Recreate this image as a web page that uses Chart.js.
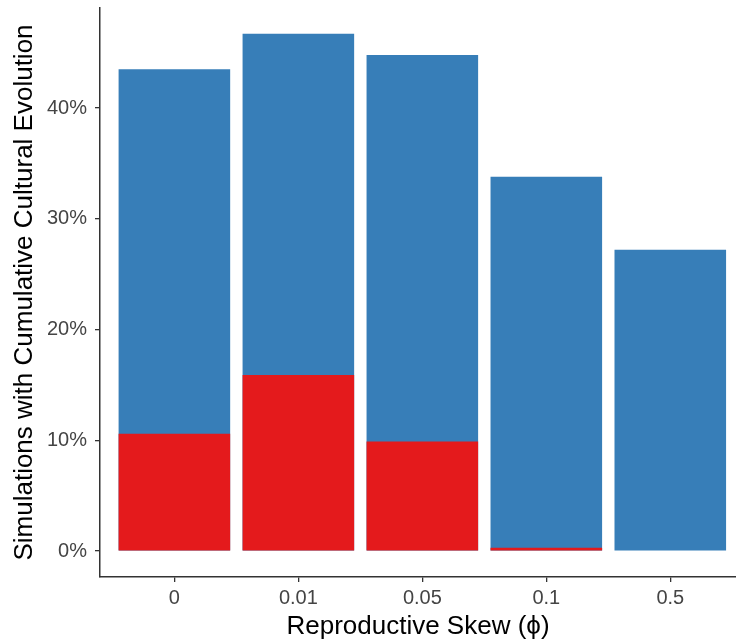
<!DOCTYPE html>
<html>
<head>
<meta charset="utf-8">
<script src="https://cdn.jsdelivr.net/npm/chart.js@4/dist/chart.umd.min.js"></script>
<style>
  html, body { margin: 0; padding: 0; background: #fff; overflow: hidden; }
  #wrap { width: 736px; height: 643px; }
</style>
</head>
<body>
<div id="wrap"><canvas id="grafica"></canvas></div>
<script>
// datos
const categorias = ['0', '0.01', '0.05', '0.1', '0.5'];
const totalCCE   = [43.5, 46.7, 44.8, 33.8, 27.2]; // azul
const subsetCCE  = [10.6, 15.9, 9.9, 0.3, 0];      // rojo
const yTicks     = [0, 10, 20, 30, 40];

const azul = '#377EB8';
const rojo = '#E41A1C';
const gris = '#444444';

const toPoints = arr => arr.map((v, i) => ({x: i + 1, y: v}));

// rango como ggplot: expansion 0.6 en x (cortado a la derecha), 5% en y
const yMax = Math.max(...totalCCE);

const ctx = document.getElementById('grafica').getContext('2d');
new Chart(ctx, {
  type: 'bar',
  data: {
    datasets: [
      { label: 'subset', data: toPoints(subsetCCE), backgroundColor: rojo, grouped: false,
        categoryPercentage: 0.9, barPercentage: 1, borderWidth: 0 },
      { label: 'total', data: toPoints(totalCCE), backgroundColor: azul, grouped: false,
        categoryPercentage: 0.9, barPercentage: 1, borderWidth: 0 }
    ]
  },
  options: {
    responsive: true,
    maintainAspectRatio: false,
    animation: false,
    layout: { padding: { top: 8, right: 0, left: 0, bottom: 0 } },
    plugins: { legend: { display: false }, tooltip: { enabled: false } },
    scales: {
      x: {
        type: 'linear',
        offset: false,
        min: 0.4,
        max: 5.53,
        afterBuildTicks: axis => { axis.ticks = categorias.map((c, i) => ({value: i + 1})); },
        afterFit: scale => { scale.height = 66; scale.paddingLeft = 0; scale.paddingRight = 0; },
        ticks: {
          callback: v => categorias[v - 1],
          color: gris,
          font: { family: 'Liberation Sans', size: 20 },
          padding: 4,
          maxRotation: 0
        },
        grid: { display: true, offset: false, drawOnChartArea: false, drawTicks: true, tickLength: 5, color: '#333', lineWidth: 1.3 },
        border: { display: true, color: '#333', width: 1.5 },
        title: {
          display: true,
          text: 'Reproductive Skew (\u03D5)',
          color: '#000',
          font: { family: 'Liberation Sans', size: 26 },
          padding: { top: 0, bottom: 1 }
        }
      },
      y: {
        min: -yMax * 0.05,
        max: yMax * 1.05,
        afterBuildTicks: axis => { axis.ticks = yTicks.map(v => ({value: v})); },
        afterFit: scale => { scale.width = 100; scale.paddingTop = 0; scale.paddingBottom = 0; },
        ticks: {
          callback: v => v + '%',
          color: gris,
          font: { family: 'Liberation Sans', size: 20 },
          padding: 8
        },
        grid: { display: true, drawOnChartArea: false, drawTicks: true, tickLength: 5, color: '#333', lineWidth: 1.3 },
        border: { display: true, color: '#333', width: 1.5 },
        title: {
          display: true,
          text: 'Simulations with Cumulative Cultural Evolution',
          color: '#000',
          font: { family: 'Liberation Sans', size: 26 },
          padding: { top: 9, bottom: 0 }
        }
      }
    }
  }
});
</script>
</body>
</html>
